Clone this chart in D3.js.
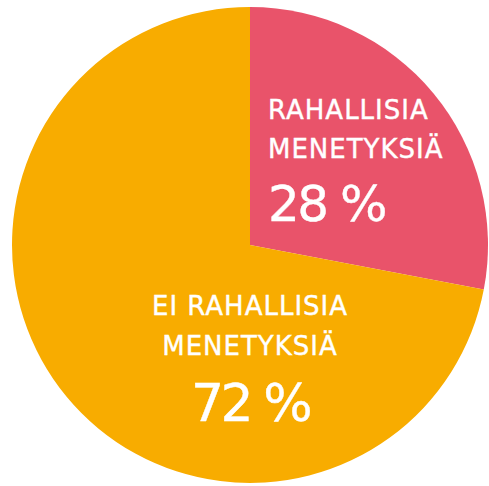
<!DOCTYPE html>
<html>
<head>
<meta charset="utf-8">
<script src="https://cdn.jsdelivr.net/npm/d3@7/dist/d3.min.js"></script>
<style>
  html, body { margin: 0; padding: 0; background: #ffffff; }
  svg { display: block; }
  text { font-family: "DejaVu Sans", sans-serif; fill: #ffffff; stroke: #ffffff; stroke-width: 0.4; }
</style>
</head>
<body>
<svg id="chart" width="489" height="486"></svg>
<script>
// Data
const categories = ["RAHALLISIA MENETYKSIÄ", "EI RAHALLISIA MENETYKSIÄ"];
const labelLines = [["RAHALLISIA", "MENETYKSIÄ"], ["EI RAHALLISIA", "MENETYKSIÄ"]];
const values = [28, 72];
const percentLabels = ["28 %", "72 %"];
const colors = ["#E9536A", "#F8AC00"];

// Layout
const width = 489, height = 486;
const cx = 250, cy = 245, radius = 238;

const svg = d3.select("#chart");
const g = svg.append("g").attr("transform", `translate(${cx},${cy})`);

const pie = d3.pie().sort(null).value(d => d.value);
const arcs = pie(values.map((v, i) => ({ value: v, name: categories[i], i })));
const arc = d3.arc().innerRadius(0).outerRadius(radius);

g.selectAll("path.slice")
  .data(arcs)
  .join("path")
  .attr("class", "slice")
  .attr("d", arc)
  .attr("fill", d => colors[d.data.i]);

// Label placement (offsets from pie centre)
const labelLayout = [
  { x: 18, anchor: "start", lineY: [-126, -87], pctY: -24, lineSize: 26, pctSize: 50, ls: 1.0, pls: -2.5 },
  { x: 0, anchor: "middle", lineY: [70, 110], pctY: 176, lineSize: 26, pctSize: 52, ls: 1.0, pls: -3.5 }
];

arcs.forEach((d, i) => {
  const L = labelLayout[i];
  const lg = g.append("g");
  labelLines[i].forEach((line, j) => {
    lg.append("text")
      .attr("x", L.x)
      .attr("y", L.lineY[j])
      .attr("text-anchor", L.anchor)
      .attr("font-size", L.lineSize)
      .attr("letter-spacing", L.ls)
      .text(line);
  });
  lg.append("text")
    .attr("x", L.x)
    .attr("y", L.pctY)
    .attr("text-anchor", L.anchor)
    .attr("font-size", L.pctSize)
    .attr("letter-spacing", L.pls)
    .text(percentLabels[i]);
});
</script>
</body>
</html>
